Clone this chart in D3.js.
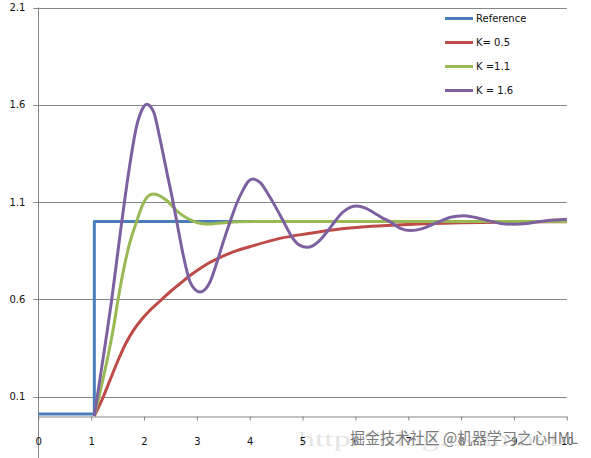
<!DOCTYPE html>
<html>
<head>
<meta charset="utf-8">
<script src="https://cdn.jsdelivr.net/npm/d3@7"></script>
<style>
  body { margin: 0; background: #fff; }
  text { font-family: "DejaVu Sans", sans-serif; }
</style>
</head>
<body>
<script>
// step input
const refT = [0, 1.06, 1.06, 10];
const refV = [0.01, 0.01, 1, 1];

// K = 0.5
const k05T = [1.06, 1.2, 1.35, 1.5, 1.65, 1.8, 1.95, 2.1, 2.3, 2.5, 2.68, 2.87, 3.15, 3.44, 3.7, 4.0, 4.57, 5.14, 5.71, 6.3, 7.0, 8.0, 9.0, 10.0];
const k05V = [0, 0.08, 0.18, 0.28, 0.37, 0.44, 0.495, 0.54, 0.59, 0.64, 0.68, 0.722, 0.774, 0.815, 0.845, 0.87, 0.913, 0.939, 0.961, 0.975, 0.985, 0.993, 0.997, 0.999];

// K = 1.1
const k11T = [1.06, 1.2, 1.32, 1.42, 1.51, 1.62, 1.72, 1.86, 1.99, 2.08, 2.18, 2.3, 2.43, 2.62, 2.81, 3.0, 3.2, 3.44, 3.8, 4.5, 6, 8, 10];
const k11V = [0, 0.16, 0.31, 0.45, 0.6, 0.76, 0.88, 1.0, 1.095, 1.13, 1.141, 1.132, 1.108, 1.055, 1.018, 0.995, 0.987, 0.992, 0.998, 1.0, 1.0, 1.0, 1.0];

// K = 1.6
const k16T = [1.06, 1.2, 1.3, 1.39, 1.48, 1.57, 1.65, 1.74, 1.86, 1.96, 2.05, 2.18, 2.3, 2.43, 2.55, 2.62, 2.74, 2.87, 2.96, 3.06, 3.16, 3.25, 3.38, 3.5, 3.63, 3.75, 3.88, 3.97, 4.06, 4.2, 4.35, 4.5, 4.64, 4.8, 4.95, 5.08, 5.2, 5.35, 5.5, 5.61, 5.75, 5.9, 6.03, 6.18, 6.35, 6.5, 6.66, 6.85, 7.05, 7.25, 7.4, 7.6, 7.8, 8.04, 8.25, 8.5, 8.75, 9.0, 9.25, 9.5, 9.75, 10.0];
const k16V = [0, 0.25, 0.43, 0.6, 0.79, 0.98, 1.14, 1.307, 1.49, 1.573, 1.603, 1.565, 1.428, 1.256, 1.1, 1.0, 0.83, 0.69, 0.652, 0.638, 0.652, 0.69, 0.79, 0.895, 1.0, 1.09, 1.165, 1.205, 1.218, 1.2, 1.14, 1.07, 1.0, 0.92, 0.877, 0.867, 0.876, 0.91, 0.96, 1.0, 1.045, 1.073, 1.08, 1.07, 1.045, 1.02, 0.998, 0.965, 0.953, 0.962, 0.978, 1.0, 1.022, 1.03, 1.022, 1.005, 0.99, 0.986, 0.99, 1.0, 1.008, 1.012];

const seriesNames = ["Reference", "K= 0.5", "K =1.1", "K = 1.6"];
const xTicks = [0, 1, 2, 3, 4, 5, 6, 7, 8, 9, 10];
const yTicks = [0.1, 0.6, 1.1, 1.6, 2.1];

const width = 591;
const height = 458;

const svg = d3.select("body").append("svg")
  .attr("width", width)
  .attr("height", height);

const x = d3.scaleLinear().domain([0, 10]).range([38.3, 566.8]);
const y = d3.scaleLinear().domain([0, 2.1]).range([416, 7.5]);

const gridColor = "#868686";

// horizontal gridlines (with the small tick sticking out left)
svg.append("g")
  .selectAll("line")
  .data(yTicks)
  .join("line")
  .attr("x1", x(0) - 5)
  .attr("x2", x(10))
  .attr("y1", d => Math.round(y(d)) + 0.5)
  .attr("y2", d => Math.round(y(d)) + 0.5)
  .attr("stroke", gridColor)
  .attr("stroke-width", 1);

// y labels
svg.append("g")
  .selectAll("text")
  .data(yTicks)
  .join("text")
  .attr("x", x(0) - 13)
  .attr("y", d => y(d))
  .attr("dy", "0.36em")
  .attr("text-anchor", "end")
  .style("font-size", "10px")
  .attr("fill", "#111")
  .text(d => d.toFixed(1));

// y axis line runs down past the x axis to the bottom edge
svg.append("line")
  .attr("x1", Math.round(x(0)) + 0.5)
  .attr("x2", Math.round(x(0)) + 0.5)
  .attr("y1", y(2.1))
  .attr("y2", height)
  .attr("stroke", gridColor);

// x axis
const xAxis = svg.append("g")
  .attr("transform", `translate(0, ${Math.round(y(0)) + 0.5})`)
  .call(d3.axisBottom(x).tickValues(xTicks).tickSize(4).tickSizeOuter(0).tickPadding(17).tickFormat(d3.format("d")));
xAxis.select(".domain").attr("stroke", gridColor);
xAxis.selectAll(".tick line").attr("stroke", gridColor);
xAxis.selectAll("text")
  .style("font-family", "DejaVu Sans")
  .style("font-size", "10px")
  .attr("fill", "#111");

const smooth = d3.line()
  .x(d => x(d[0]))
  .y(d => y(d[1]))
  .curve(d3.curveMonotoneX);

const straight = d3.line()
  .x(d => x(d[0]))
  .y(d => y(d[1]));

const series = [
  { name: seriesNames[0], pts: d3.zip(refT, refV), color: "#4A7EBB", gen: straight },
  { name: seriesNames[1], pts: d3.zip(k05T, k05V), color: "#BE4B48", gen: smooth },
  { name: seriesNames[2], pts: d3.zip(k11T, k11V), color: "#98B954", gen: smooth },
  { name: seriesNames[3], pts: d3.zip(k16T, k16V), color: "#7D60A0", gen: smooth },
];

svg.append("g")
  .selectAll("path")
  .data(series)
  .join("path")
  .attr("d", d => d.gen(d.pts))
  .attr("fill", "none")
  .attr("stroke", d => d.color)
  .attr("stroke-width", 3)
  .attr("stroke-linejoin", "round");

// legend
const legend = svg.append("g")
  .selectAll("g")
  .data(series)
  .join("g")
  .attr("transform", (d, i) => `translate(445, ${18.5 + i * 24})`);

legend.append("line")
  .attr("x1", 0)
  .attr("x2", 28)
  .attr("stroke", d => d.color)
  .attr("stroke-width", 3);

legend.append("text")
  .attr("x", 31)
  .attr("dy", "0.35em")
  .style("font-size", "10px")
  .attr("fill", "#111")
  .text(d => d.name);

// watermark at the bottom
svg.append("text")
  .attr("x", 298)
  .attr("y", 446)
  .attr("textLength", 270)
  .attr("lengthAdjust", "spacingAndGlyphs")
  .style("font-family", "Liberation Serif, serif")
  .style("font-size", "21px")
  .attr("fill", "#000")
  .attr("opacity", 0.1)
  .text("http://blog.csdn.net/");

svg.append("text")
  .attr("x", 350)
  .attr("y", 444)
  .attr("textLength", 228)
  .attr("lengthAdjust", "spacingAndGlyphs")
  .style("font-family", "Noto Sans CJK SC")
  .style("font-size", "16px")
  .attr("fill", "#7a7a7a")
  .attr("stroke", "#fff")
  .attr("stroke-width", 0.5)
  .style("paint-order", "stroke")
  .text("掘金技术社区 @机器学习之心HML");
</script>
</body>
</html>
